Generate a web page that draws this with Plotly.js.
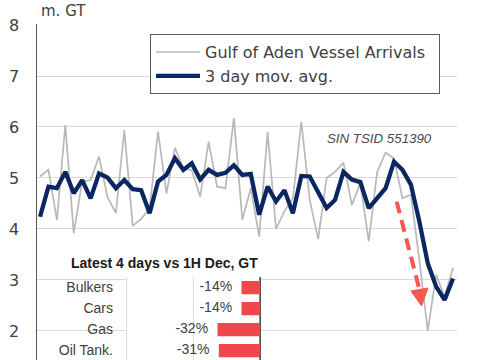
<!DOCTYPE html>
<html><head><meta charset="utf-8">
<script src="https://cdn.plot.ly/plotly-3.0.1.min.js"></script>
<style>html,body{margin:0;padding:0;background:#fff;}#chart{width:485px;height:360px;}</style>
</head><body><div id="chart"></div>
<script>
const days = [0,1,2,3,4,5,6,7,8,9,10,11,12,13,14,15,16,17,18,19,20,21,22,23,24,25,26,27,28,29,30,31,32,33,34,35,36,37,38,39,40,41,42,43,44,45,46,47,48,49];
const arrivals = [5.03,5.16,4.18,6.04,3.92,4.93,4.96,5.42,4.63,4.31,5.94,4.06,4.2,4.4,5.91,4.7,5.59,5.2,5.15,4.63,5.71,4.83,4.8,6.18,4.18,4.8,3.85,5.9,4.0,4.35,4.6,6.1,4.57,3.8,5.0,5.12,5.3,4.47,4.9,3.76,5.12,5.5,5.38,4.6,4.67,3.4,2.0,3.1,2.67,3.24];
const movAvg = [4.24,4.83,4.8,5.12,4.7,4.96,4.6,5.09,5.01,4.8,4.96,4.78,4.76,4.31,4.93,5.06,5.39,5.16,5.29,4.97,5.16,5.06,5.1,5.25,5.06,5.08,4.28,4.83,4.54,4.76,4.31,5.04,5.03,4.7,4.41,4.57,5.12,4.97,4.92,4.41,4.6,4.8,5.32,5.16,4.87,4.15,3.33,2.87,2.61,3.03];
const yTicks = [2,3,4,5,6,7,8];
const segments = ['Bulkers','Cars','Gas','Oil Tank.'];
const segmentChange = [-14,-14,-32,-31];
const segmentLabels = ['-14%','-14%','-32%','-31%'];
const insetGridVals = [-100,-50];
const insetAxisVal = 0;

const FONT = 'DejaVu Sans, sans-serif';
const LIB = 'Liberation Sans, Arial, sans-serif';
const GRID = '#d9d9d9';
const RED = '#f0474c';
const ARROW = '#f4584f';
const Y2RANGE = [3.45, -0.5];

const traces = [
  {x: days, y: arrivals, type: 'scatter', mode: 'lines', name: 'Gulf of Aden Vessel Arrivals\u00a0\u2009',
   line: {color: '#b8b8b8', width: 1.7}, hoverinfo: 'skip'},
  {x: days, y: movAvg, type: 'scatter', mode: 'lines', name: '3 day mov. avg.',
   line: {color: '#0b2762', width: 4.3}, hoverinfo: 'skip'},
  {x: segmentChange, y: segments, type: 'bar', orientation: 'h', xaxis: 'x2', yaxis: 'y2',
   marker: {color: RED}, width: 0.63, showlegend: false, hoverinfo: 'skip'},
  {x: segmentChange.map(v => v - 7), y: segments, type: 'scatter', mode: 'text', xaxis: 'x2', yaxis: 'y2',
   text: segmentLabels, textposition: 'middle left', cliponaxis: false,
   textfont: {family: LIB, size: 14, color: '#404040'}, showlegend: false, hoverinfo: 'skip'}
];

const insetLines = insetGridVals.map(v => ({type: 'line', xref: 'x2', yref: 'y2', x0: v, x1: v,
  y0: Y2RANGE[1], y1: Y2RANGE[0], line: {color: GRID, width: 1}, layer: 'between'}));
insetLines.push({type: 'line', xref: 'x2', yref: 'y2', x0: insetAxisVal, x1: insetAxisVal,
  y0: Y2RANGE[1], y1: Y2RANGE[0], line: {color: '#333', width: 1.6}, layer: 'between'});

const layout = {
  width: 485, height: 360,
  margin: {l: 37, r: 28, t: 24, b: 0, pad: 0},
  paper_bgcolor: '#fff', plot_bgcolor: '#fff',
  showlegend: true,
  font: {family: FONT, color: '#404040'},
  xaxis: {range: [-0.36, 49.47], showgrid: false, zeroline: false, showticklabels: false,
          ticks: '', showline: false, fixedrange: true},
  yaxis: {range: [1.431, 8.0196], tickvals: yTicks, showgrid: true, gridcolor: GRID, gridwidth: 1,
          zeroline: false, showline: true, linecolor: '#595959', linewidth: 1.5, ticks: '',
          ticklabelstandoff: 13, tickfont: {family: FONT, size: 16, color: '#404040'}, fixedrange: true},
  xaxis2: {domain: [0.2119, 0.533], range: [-100.5, 0.5], anchor: 'y2',
           showgrid: false, zeroline: false, showticklabels: false, ticks: '', showline: false, fixedrange: true},
  yaxis2: {domain: [0, 0.247], range: Y2RANGE, anchor: 'x2', type: 'category',
           showgrid: false, zeroline: false, showline: false, ticks: '', ticklabelstandoff: 12,
           tickfont: {family: LIB, size: 14, color: '#404040'}, fixedrange: true},
  legend: {x: 0.269, y: 0.97, xanchor: 'left', yanchor: 'top', bgcolor: '#fff',
           bordercolor: '#595959', borderwidth: 1, itemwidth: 44,
           font: {family: FONT, size: 16, color: '#404040'}, tracegroupgap: 0},
  shapes: [
    {type: 'rect', xref: 'x2 domain', yref: 'y2 domain', x0: -0.60, x1: 1.016, y0: -0.3, y1: 1.325,
     fillcolor: '#fff', line: {width: 0}, layer: 'below'},
    ...insetLines,
    {type: 'line', xref: 'x', yref: 'y', x0: 42.31, y0: 4.535, x1: 45.02, y1: 2.81,
     line: {color: ARROW, width: 4, dash: '12px,7px'}, layer: 'above'},
    {type: 'path', xref: 'x', yref: 'y', path: 'M 45.26 2.49 L 46.03 2.843 L 44.01 2.784 Z',
     fillcolor: ARROW, line: {color: ARROW, width: 1}, layer: 'above'}
  ],
  annotations: [
    {text: 'm. GT', xref: 'paper', yref: 'paper', x: 0.005, y: 1.0, xanchor: 'left', yanchor: 'bottom',
     yshift: 2, showarrow: false, font: {family: FONT, size: 15, color: '#404040'}},
    {text: 'SIN TSID 551390', xref: 'x', yref: 'y', x: 40.3, y: 5.78, xanchor: 'center', yanchor: 'middle',
     showarrow: false, font: {family: LIB, size: 13.3, color: '#4a4a4a', style: 'italic'}},
    {text: '<b>Latest 4 days vs 1H Dec, GT</b>', xref: 'paper', yref: 'paper', x: 0.531, y: 0.2887,
     xanchor: 'right', yanchor: 'middle', showarrow: false, font: {family: LIB, size: 14, color: '#1a1a1a'}}
  ]
};

Plotly.newPlot('chart', traces, layout, {staticPlot: true, displayModeBar: false});
</script>
</body></html>
